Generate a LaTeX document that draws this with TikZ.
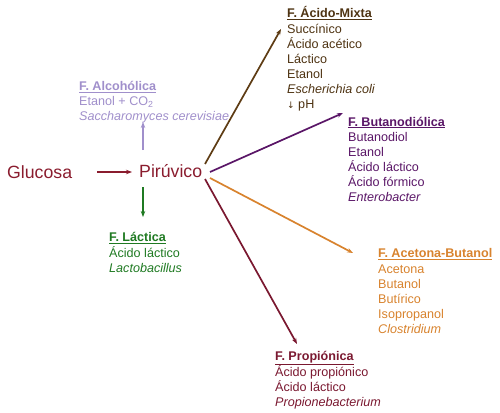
\documentclass[tikz,border=0pt]{standalone}
\usepackage{fontspec}
\setmainfont{Liberation Sans}
\newfontfamily\arrfont{DejaVu Sans}
\usetikzlibrary{arrows.meta}
\definecolor{cGlu}{HTML}{8A1C2E}
\definecolor{cAlc}{HTML}{A08FCB}
\definecolor{cLac}{HTML}{1F7A22}
\definecolor{cMix}{HTML}{4E3312}
\definecolor{cMixA}{HTML}{5E3C14}
\definecolor{cBut}{HTML}{5A1667}
\definecolor{cAce}{HTML}{D8832E}
\definecolor{cPro}{HTML}{7A1830}
\tikzset{
  big/.style={font=\fontsize{17.7}{20}\selectfont, inner sep=0pt, anchor=base west},
  ln/.style={font=\fontsize{12.6}{15}\selectfont, inner sep=0pt, anchor=base west},
  ttl/.style={ln, font=\fontsize{12.6}{15}\selectfont\bfseries},
  arr/.style={line width=1.7pt, -{Stealth[length=6pt,width=4.5pt]}},
}
\newcommand{\ul}[1]{\underline{#1}}
\begin{document}
\begin{tikzpicture}[x=1pt,y=-1pt]
\useasboundingbox (0,0) rectangle (500,412);
% main
\node[big, text=cGlu] (glu) at (7,178) {Glucosa};
\node[big, text=cGlu] (pir) at (139,177) {Pirúvico};
\coordinate (gluE) at (97,172);
\coordinate (pirW) at (132,172);
\draw[arr, cGlu] (gluE) -- (pirW);
% Alcoholica
\node[ttl, text=cAlc] (alc) at (79,90.5) {\ul{F. Alcohólica}};
\node[ln, text=cAlc] (alc1) at (79,105) {Etanol + CO\textsubscript{2}};
\node[ln, text=cAlc] (alc2) at (79,120) {\itshape Saccharomyces cerevisiae};
\coordinate (alcS) at (143,150);
\coordinate (alcT) at (143,122);
\draw[arr, cAlc] (alcS) -- (alcT);
% Lactica
\coordinate (lacS) at (143,187);
\coordinate (lacT) at (143,217);
\draw[arr, cLac] (lacS) -- (lacT);
\node[ttl, text=cLac] (lac) at (109,241.5) {\ul{F. Láctica}};
\node[ln, text=cLac] (lac1) at (109,257) {Ácido láctico};
\node[ln, text=cLac] (lac2) at (109,272) {\itshape Lactobacillus};
% Acido-Mixta
\node[ttl, text=cMix] (mix) at (287,18) {\ul{F. Ácido-Mixta}};
\node[ln, text=cMix] (mix1) at (287,33.5) {Succínico};
\node[ln, text=cMix] (mix2) at (287,48.5) {Ácido acético};
\node[ln, text=cMix] (mix3) at (287,63.5) {Láctico};
\node[ln, text=cMix] (mix4) at (287,78.5) {Etanol};
\node[ln, text=cMix] (mix5) at (287,93.5) {\itshape Escherichia coli};
\node[ln, text=cMix] (mix6) at (287,108.5) {{\arrfont\fontsize{9}{15}\selectfont↓} pH};
\coordinate (mixS) at (205,164);
\coordinate (mixT) at (281,29);
\draw[arr, cMixA] (mixS) -- (mixT);
% Butanodiolica
\node[ttl, text=cBut] (but) at (348,126) {\ul{F. Butanodiólica}};
\node[ln, text=cBut] (but1) at (348,141.5) {Butanodiol};
\node[ln, text=cBut] (but2) at (348,156.5) {Etanol};
\node[ln, text=cBut] (but3) at (348,171.5) {Ácido láctico};
\node[ln, text=cBut] (but4) at (348,186.5) {Ácido fórmico};
\node[ln, text=cBut] (but5) at (348,201.5) {\itshape Enterobacter};
\coordinate (butS) at (210,172);
\coordinate (butT) at (343,113);
\draw[arr, cBut] (butS) -- (butT);
% Acetona-Butanol
\node[ttl, text=cAce] (ace) at (378,257.5) {\ul{F. Acetona-Butanol}};
\node[ln, text=cAce] (ace1) at (378,273.5) {Acetona};
\node[ln, text=cAce] (ace2) at (378,288.5) {Butanol};
\node[ln, text=cAce] (ace3) at (378,303.5) {Butírico};
\node[ln, text=cAce] (ace4) at (378,318.5) {Isopropanol};
\node[ln, text=cAce] (ace5) at (378,333.5) {\itshape Clostridium};
\coordinate (aceS) at (210,178);
\coordinate (aceT) at (353,253);
\draw[arr, cAce] (aceS) -- (aceT);
% Propionica
\node[ttl, text=cPro] (pro) at (275,360.5) {\ul{F. Propiónica}};
\node[ln, text=cPro] (pro1) at (275,376) {Ácido propiónico};
\node[ln, text=cPro] (pro2) at (275,391) {Ácido láctico};
\node[ln, text=cPro] (pro3) at (275,406) {\itshape Propionebacterium};
\coordinate (proS) at (205,179);
\coordinate (proT) at (297,344);
\draw[arr, cPro] (proS) -- (proT);
\end{tikzpicture}
\end{document}
